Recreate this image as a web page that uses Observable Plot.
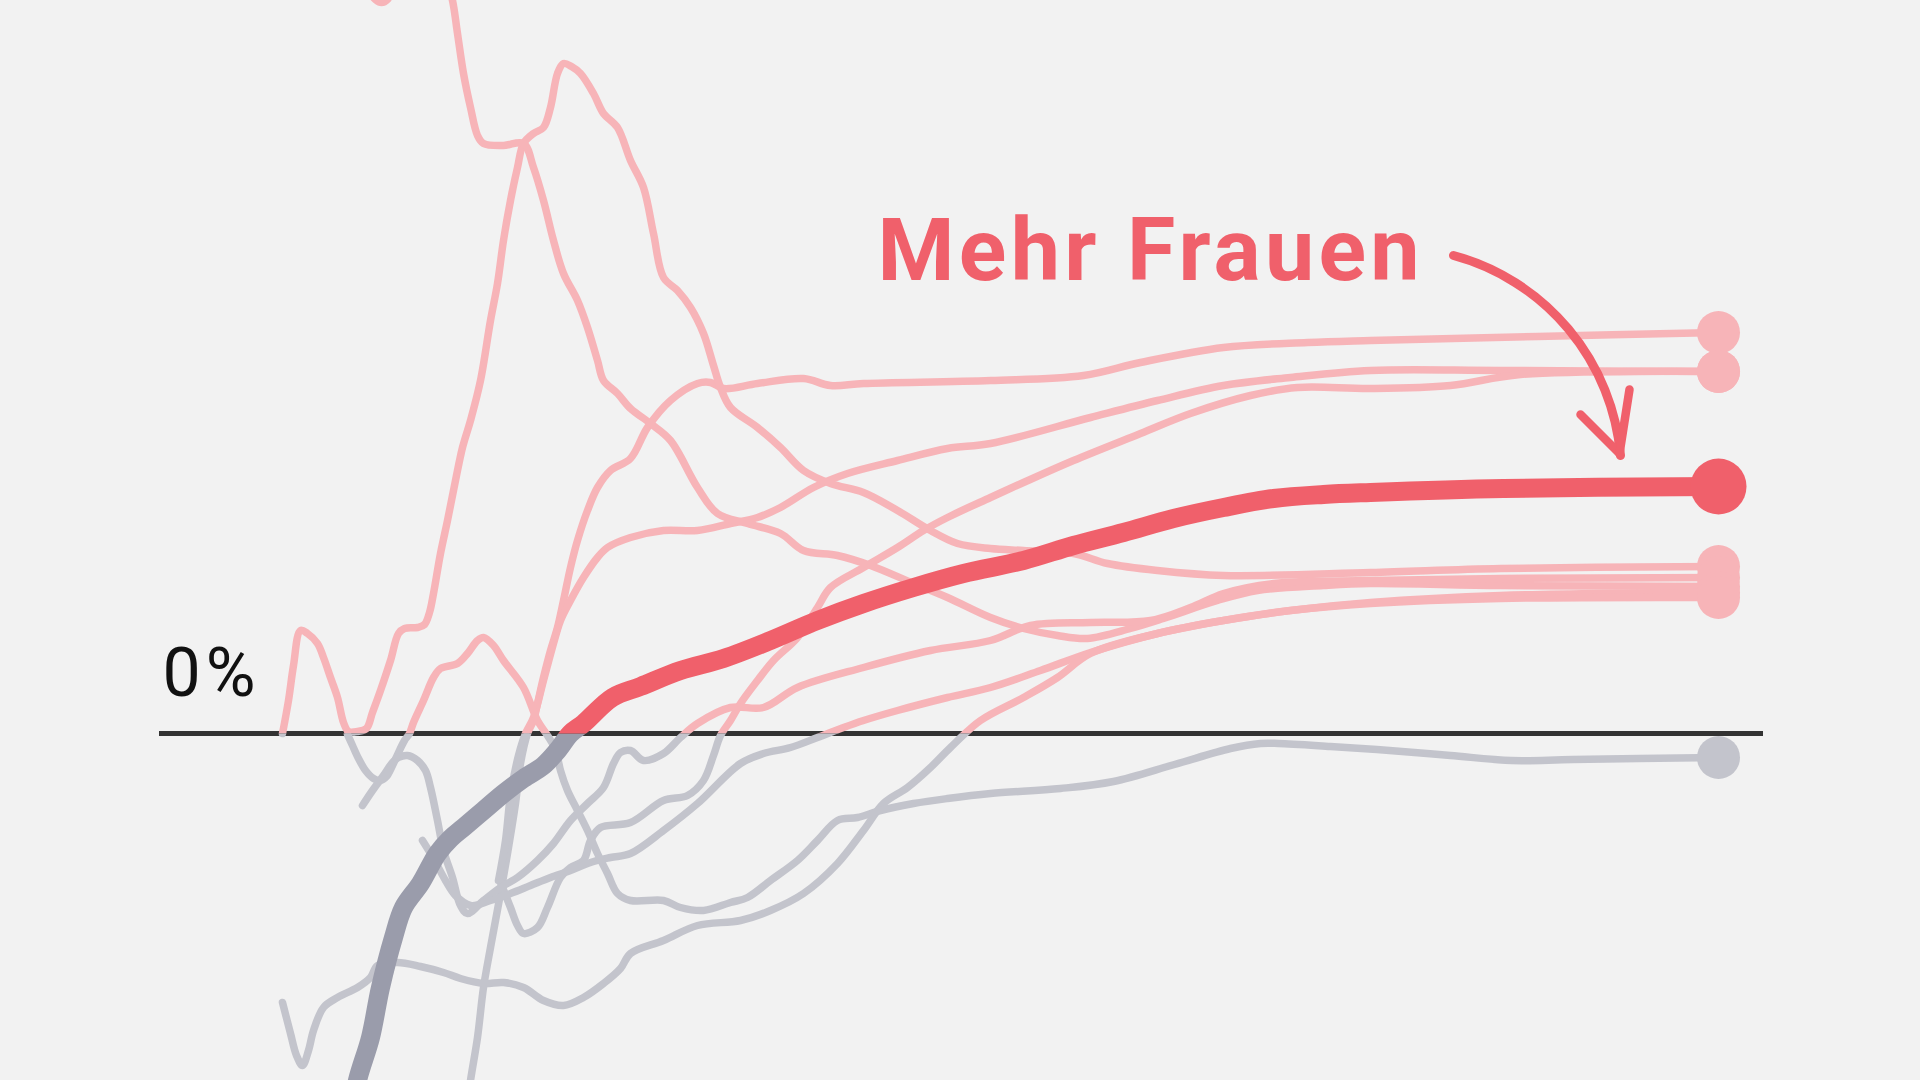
<!DOCTYPE html>
<html lang="de">
<head>
<meta charset="utf-8">
<script src="https://cdn.jsdelivr.net/npm/d3@7"></script>
<script src="https://cdn.jsdelivr.net/npm/@observablehq/plot@0.6"></script>
<style>
  html, body { margin: 0; padding: 0; background: #f2f2f2; overflow: hidden; }
  #chart { width: 1920px; height: 1080px; }
  #chart svg { display: block; overflow: hidden; }
</style>
</head>
<body>
<div id="chart"></div>
<script>
// ---- Daten: [Tag, Veränderung in %] je Linie ----
const linieHervorgehoben = [[70,-37.7],[75,-34.7],[88,-30.4],[98,-25.4],[111,-20.4],[121,-17.4],[138,-15.0],[155,-12.0],[168,-10.5],[181,-9.4],[201,-7.7],[221,-6.0],[241,-4.5],[261,-3.2],[275,-1.7],[288,0],[301,1.0],[330,3.6],[358,4.7],[398,6.3],[441,7.5],[488,9.3],[535,11.3],[581,13.0],[631,14.6],[681,16.0],[741,17.3],[791,18.8],[841,20.1],[891,21.5],[941,22.6],[991,23.5],[1041,23.9],[1088,24.1],[1221,24.5],[1436,24.7]];

const linieA = [[184,-37.7],[188,-34.7],[195,-30.4],[201,-25.4],[208,-21.4],[218,-16.0],[225,-12.0],[233,-7.0],[238,-3.0],[245,0],[251,1.3],[255,3.0],[261,5.6],[268,8.3],[275,10.6],[281,13.3],[288,16.6],[295,19.3],[305,22.3],[315,24.6],[328,26.3],[348,27.5],[365,30.6],[388,33.3],[415,35.0],[428,35.1],[441,34.5],[475,35.0],[521,35.5],[548,34.8],[581,35.0],[708,35.3],[801,35.8],[858,37.1],[941,38.6],[1025,39.1],[1088,39.3],[1255,39.7],[1436,40.1]];

const linieB = [[216,-14.7],[223,-10.7],[228,-6.2],[236,-2.2],[243,0],[251,1.6],[261,5.3],[271,9.0],[278,11.3],[288,13.3],[301,15.6],[315,17.6],[325,18.6],[348,19.6],[381,20.3],[415,20.3],[448,21.0],[475,21.6],[498,22.6],[531,24.6],[565,26.0],[615,27.3],[665,28.5],[708,29.0],[808,31.6],[875,33.3],[941,34.8],[1008,35.6],[1088,36.3],[1218,36.3],[1436,36.2]];

const linieC = [[218,-14.9],[228,-17.4],[235,-19.2],[241,-20.0],[255,-19.4],[265,-17.4],[278,-14.4],[288,-13.4],[301,-12.7],[308,-10.7],[318,-9.4],[348,-8.9],[381,-6.7],[405,-6.2],[421,-4.7],[431,-2.2],[438,-0.2],[448,1.3],[458,3.0],[475,5.3],[491,7.3],[515,9.6],[535,12.6],[548,14.6],[581,16.6],[615,18.6],[641,20.3],[665,21.6],[708,23.6],[741,25.1],[791,27.3],[858,30.0],[908,32.0],[968,33.8],[1015,34.6],[1088,34.5],[1168,34.8],[1238,35.9],[1436,36.2]];

const linieD = [[0,0],[6,3.3],[11,6.8],[18,10.3],[25,10.0],[35,9.0],[41,7.6],[48,5.6],[55,3.6],[61,1.1],[66,0.2],[75,0.2],[84,0.5],[90,2.1],[98,4.3],[108,7.3],[116,10.0],[122,10.5],[135,10.6],[142,10.9],[147,12.1],[151,14.0],[158,18.0],[165,21.3],[173,25.3],[180,28.6],[188,31.3],[198,35.3],[208,41.3],[215,45.0],[221,49.3],[228,53.3],[235,56.6],[241,59.0],[251,60.0],[261,60.6],[268,62.6],[275,66.0],[281,67.0],[289,66.7],[298,66.0],[311,64.0],[321,62.0],[335,60.6],[348,57.3],[361,54.6],[371,50.0],[381,45.6],[395,44.3],[408,42.6],[421,40.0],[431,36.8],[438,34.6],[448,32.6],[475,30.6],[498,28.6],[521,26.3],[548,25.0],[581,24.1],[615,22.3],[648,20.3],[675,19.0],[708,18.5],[741,18.3],[791,18.0],[825,17.0],[875,16.3],[941,15.8],[1088,16.1],[1218,16.5],[1436,16.7]];

const linieE = [[76,77.3],[86,74.3],[93,73.4],[99,73.1],[105,73.4],[113,75.3],[128,77.8],[148,78.3],[163,75.8],[170,73.3],[175,70.0],[181,66.0],[188,62.6],[195,59.8],[201,59.0],[221,58.8],[241,59.0],[251,56.6],[261,53.3],[271,49.3],[281,46.0],[295,43.3],[305,40.6],[315,37.3],[321,35.3],[335,34.0],[348,32.5],[368,31.0],[388,29.3],[415,24.6],[435,22.0],[465,21.0],[498,20.0],[521,18.3],[555,17.8],[588,16.8],[631,15.0],[665,13.6],[708,11.6],[741,10.5],[775,9.8],[805,9.5],[848,10.5],[881,11.5],[935,13.3],[975,14.3],[1041,14.8],[1088,15.0],[1218,14.8],[1436,14.7]];

const linieF = [[80,-7.2],[90,-5.7],[101,-4.2],[110,-2.9],[116,-2.4],[125,-2.2],[135,-2.7],[143,-3.7],[148,-5.4],[155,-8.7],[161,-11.7],[170,-14.4],[178,-17.2],[185,-18.0],[201,-16.7],[218,-15.4],[235,-14.4],[255,-12.7],[271,-11.0],[288,-8.7],[305,-7.0],[321,-5.4],[331,-3.0],[338,-1.9],[348,-1.7],[361,-2.7],[381,-2.0],[398,-0.4],[415,1.0],[448,2.6],[481,2.6],[515,4.6],[581,6.6],[648,8.3],[708,9.3],[748,10.8],[808,11.1],[868,11.3],[908,12.6],[941,14.0],[991,15.0],[1088,15.3],[1218,15.5],[1436,15.6]];

const linieG = [[140,-10.7],[151,-12.5],[163,-14.7],[173,-16.2],[188,-17.2],[208,-16.7],[228,-16.0],[248,-15.2],[268,-14.4],[288,-13.7],[308,-12.9],[328,-12.4],[348,-12.0],[381,-9.7],[415,-7.0],[458,-3.0],[481,-2.0],[508,-1.4],[535,-0.4],[561,0.6],[581,1.3],[615,2.3],[665,3.6],[708,4.6],[758,6.3],[808,8.1],[875,10.0],[941,11.3],[1008,12.3],[1088,13.1],[1218,13.8],[1436,14.1]];

const linieH = [[0,-26.9],[8,-30.0],[14,-32.2],[20,-33.2],[26,-31.7],[31,-29.7],[41,-27.4],[55,-26.4],[75,-25.4],[88,-24.4],[95,-23.2],[115,-22.9],[138,-23.3],[161,-23.9],[178,-24.5],[201,-25.0],[221,-24.9],[241,-25.4],[261,-26.7],[281,-27.2],[301,-26.4],[321,-25.0],[338,-23.5],[348,-22.0],[381,-20.7],[415,-19.2],[458,-18.7],[488,-17.7],[521,-16.0],[555,-13.0],[581,-9.7],[601,-7.0],[625,-5.4],[648,-3.4],[668,-1.4],[698,1.3],[741,3.6],[775,5.6],[808,8.0],[875,10.0],[941,11.3],[1008,12.3],[1088,13.0],[1218,13.5],[1436,13.6]];

const linieI = [[65,-0.1],[70,-1.2],[76,-2.5],[83,-3.7],[91,-4.5],[98,-4.7],[104,-4.3],[110,-3.2],[116,-1.9],[122,-0.7],[127,0],[131,1.1],[141,3.3],[151,5.6],[158,6.5],[175,7.0],[185,8.0],[195,9.3],[201,9.6],[211,8.8],[221,7.3],[241,4.6],[255,1.3],[265,-0.2],[271,-1.2],[275,-2.4],[278,-3.7],[285,-5.7],[295,-7.7],[305,-9.7],[315,-12.0],[325,-14.0],[335,-16.0],[348,-16.7],[381,-16.7],[398,-17.4],[421,-17.7],[448,-16.9],[465,-16.4],[488,-14.7],[515,-12.7],[535,-10.7],[555,-8.7],[575,-8.4],[598,-7.7],[631,-7.0],[665,-6.5],[708,-6.0],[778,-5.5],[831,-4.8],[892,-3.1],[948,-1.5],[978,-1.0],[996,-1.0],[1048,-1.3],[1107,-1.7],[1168,-2.2],[1229,-2.7],[1290,-2.6],[1436,-2.4]];

const duenneLinien = {A: linieA, B: linieB, C: linieC, D: linieD, E: linieE, F: linieF, G: linieG, H: linieH, I: linieI};

const nullLinie = [-123, 1481];            // Ausdehnung der 0-%-Linie (Tage)
const pfeil = [{x1: 1171, y1: 47.8, x2: 1338, y2: 27.8}];
const pfeilSpitze = [
  {x1: 1337, y1: 28.0, x2: 1298, y2: 31.9},
  {x1: 1337, y1: 28.0, x2: 1347, y2: 34.4}
];
const beschriftung = [
  {t: -120, v: 3.8, text: "0%"},
  {t: 595, v: 45.4, text: "Mehr Frauen"}
];

const farbe = {
  rosa: "#f7b4b8", grau: "#c3c4cc", rot: "#f0606b", dunkelgrau: "#9a9cab",
  achse: "#333333", grund: "#f2f2f2", text: "#111111"
};

// ---- Tabellen für Plot ----
const duenn = Object.entries(duenneLinien).flatMap(([serie, pts]) =>
  pts.map(([t, v]) => ({serie, t, v})));
const dick = linieHervorgehoben.map(([t, v]) => ({serie: "X", t, v}));
const enden = Object.entries(duenneLinien).map(([serie, pts]) => ({serie, t: pts[pts.length-1][0], v: pts[pts.length-1][1]}));
const endeDick = [{t: linieHervorgehoben.at(-1)[0], v: linieHervorgehoben.at(-1)[1]}];

const kurve = "catmull-rom";

const chart = Plot.plot({
  width: 1920,
  height: 1080,
  margin: 0,
  style: {background: farbe.grund, overflow: "hidden"},
  x: {domain: [-282, 1638], axis: null},
  y: {domain: [-34.7, 73.3], axis: null},
  marks: [
    Plot.ruleY([0], {x1: nullLinie[0], x2: nullLinie[1], stroke: farbe.achse, strokeWidth: 5}),
    Plot.line(duenn, {x: "t", y: "v", z: "serie", stroke: farbe.rosa, strokeWidth: 7.5, curve: kurve, ariaDescription: "oben"}),
    Plot.line(duenn, {x: "t", y: "v", z: "serie", stroke: farbe.grau, strokeWidth: 7.5, curve: kurve, ariaDescription: "unten"}),
    Plot.line(dick, {x: "t", y: "v", stroke: farbe.dunkelgrau, strokeWidth: 19, curve: kurve, ariaDescription: "unten"}),
    Plot.line(dick, {x: "t", y: "v", stroke: farbe.rot, strokeWidth: 19, curve: kurve, ariaDescription: "oben"}),
    Plot.dot(enden.filter(d => d.v > 0), {x: "t", y: "v", r: 21.5, fill: farbe.rosa}),
    Plot.dot(enden.filter(d => d.v <= 0), {x: "t", y: "v", r: 21.5, fill: farbe.grau}),
    Plot.dot(endeDick, {x: "t", y: "v", r: 28, fill: farbe.rot}),
    Plot.arrow(pfeil, {x1: "x1", y1: "y1", x2: "x2", y2: "y2", bend: 35, stroke: farbe.rot, strokeWidth: 9, headLength: 0, strokeLinecap: "round"}),
    Plot.link(pfeilSpitze, {x1: "x1", y1: "y1", x2: "x2", y2: "y2", stroke: farbe.rot, strokeWidth: 8.5, strokeLinecap: "round"}),
    Plot.text(beschriftung.slice(0, 1), {x: "t", y: "v", text: "text", textAnchor: "start", lineAnchor: "bottom", fontSize: 68, fontWeight: 400, fontFamily: "Roboto", fill: farbe.text}),
    Plot.text(beschriftung.slice(1), {x: "t", y: "v", text: "text", textAnchor: "start", lineAnchor: "bottom", fontSize: 88, fontWeight: 700, fontFamily: "Roboto", fill: farbe.rot})
  ]
});

// Linien oberhalb der 0-%-Linie rosa/rot, darunter grau (Clipping an y(0))
const y0 = chart.scale("y").apply(0);
const ns = "http://www.w3.org/2000/svg";
const defs = document.createElementNS(ns, "defs");
const mkClip = (id, y, h) => {
  const cp = document.createElementNS(ns, "clipPath");
  cp.setAttribute("id", id);
  const r = document.createElementNS(ns, "rect");
  r.setAttribute("x", -50); r.setAttribute("y", y);
  r.setAttribute("width", 2100); r.setAttribute("height", h);
  cp.appendChild(r); defs.appendChild(cp);
};
mkClip("clipOben", -2000, 2000 + y0);
mkClip("clipUnten", y0, 4000);
chart.insertBefore(defs, chart.firstChild);
let oben = chart.querySelectorAll('[aria-description="oben"]');
let unten = chart.querySelectorAll('[aria-description="unten"]');
if (oben.length === 0) {
  const lines = chart.querySelectorAll('g[aria-label="line"]');
  oben = [lines[0], lines[3]]; unten = [lines[1], lines[2]];
}
oben.forEach(g => g.setAttribute("clip-path", "url(#clipOben)"));
unten.forEach(g => g.setAttribute("clip-path", "url(#clipUnten)"));
chart.querySelectorAll('g[aria-label="text"] text').forEach(t => {
  if (t.textContent === "Mehr Frauen") t.setAttribute("letter-spacing", "4.3");
  if (t.textContent === "0%") t.setAttribute("letter-spacing", "5");
});

document.getElementById("chart").appendChild(chart);
</script>
</body>
</html>
